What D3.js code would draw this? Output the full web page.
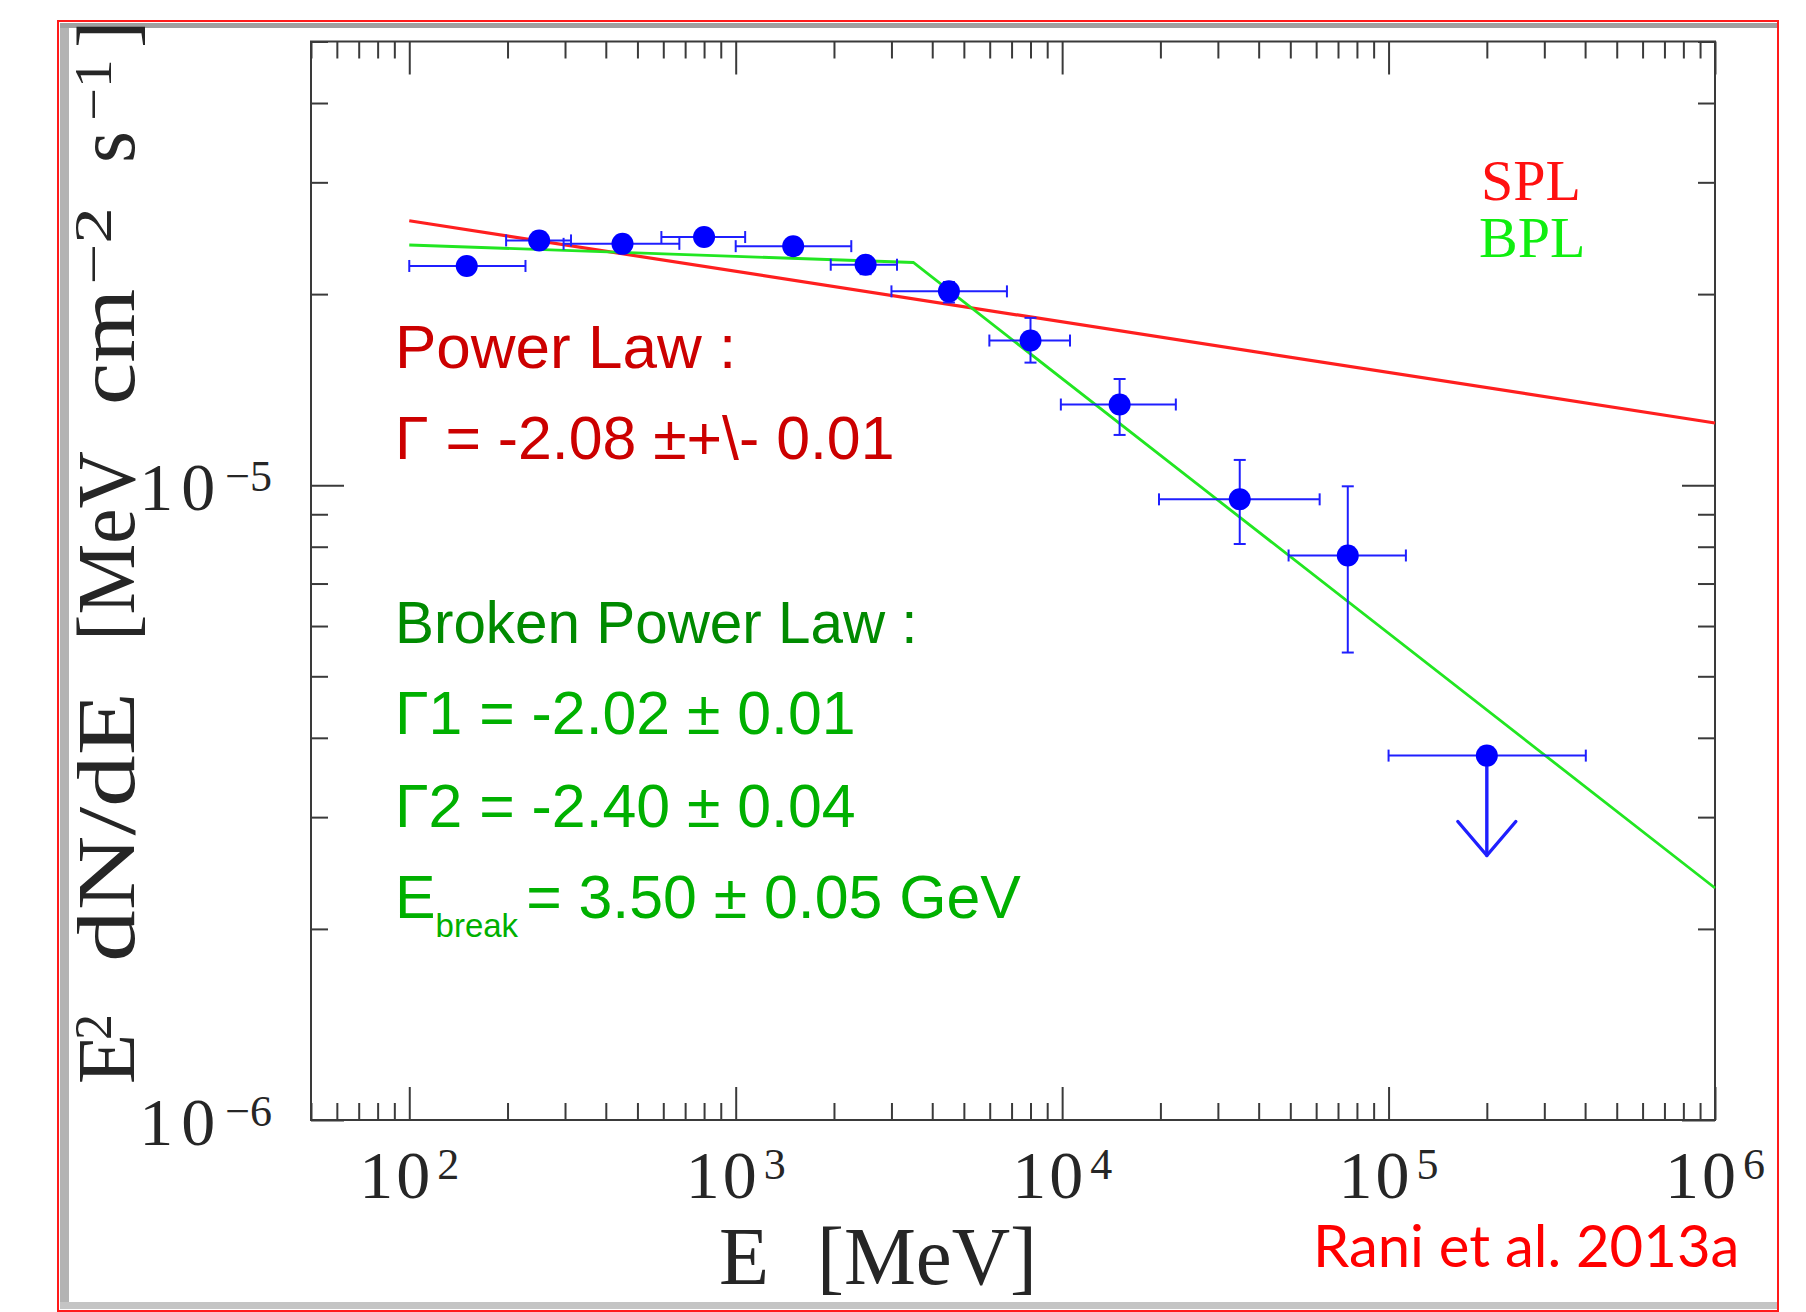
<!DOCTYPE html>
<html>
<head>
<meta charset="utf-8">
<script src="https://cdn.jsdelivr.net/npm/d3@7"></script>
<style>
  html, body { margin: 0; padding: 0; background: #ffffff; }
  svg { display: block; }
</style>
</head>
<body>
<svg id="chart" width="1806" height="1312"></svg>
<script>
// ---------------- data ----------------
const energy = [150, 250, 450, 800, 1500, 2500, 4500, 8000, 15000, 35000, 75000, 200000];
const flux   = [2.215e-5, 2.43e-5, 2.40e-5, 2.46e-5, 2.38e-5, 2.225e-5, 2.02e-5, 1.69e-5, 1.34e-5, 9.5e-6, 7.75e-6, 3.75e-6];
const eLow   = [100, 198, 297, 592, 1000, 1955, 3000, 5985, 9910, 19800, 49400, 100000];
const eHigh  = [227, 313, 672, 1069, 2260, 3120, 6775, 10570, 22300, 61500, 113000, 402000];
const fLow   = [2.15e-5, 2.36e-5, 2.33e-5, 2.39e-5, 2.31e-5, 2.15e-5, 1.94e-5, 1.56e-5, 1.20e-5, 8.08e-6, 5.45e-6, null];
const fHigh  = [2.28e-5, 2.50e-5, 2.47e-5, 2.53e-5, 2.45e-5, 2.29e-5, 2.09e-5, 1.835e-5, 1.47e-5, 1.096e-5, 9.96e-6, null];
const upperLimit = [false, false, false, false, false, false, false, false, false, false, false, true];
const ulArrowTo = [null, null, null, null, null, null, null, null, null, null, null, 2.61e-6];

const splE = [100, 1e6];
const splF = [2.61e-5, 1.253e-5];
const bplE = [100, 3500, 1e6];
const bplF = [2.39e-5, 2.243e-5, 2.32e-6];

const xDomain = [50, 1e6];
const yDomain = [1e-6, 5e-5];
const xMajorTicks = [1e2, 1e3, 1e4, 1e5, 1e6];
const xMajorExp = ["2", "3", "4", "5", "6"];
const yMajorTicks = [1e-6, 1e-5];
const yMajorExp = ["\u22126", "\u22125"];

const legendLabels = ["SPL", "BPL"];
const plLines = ["Power Law :", "\u0393 = -2.08 \u00b1+\\- 0.01"];
const bplTitle = "Broken Power Law :";
const bplLines = ["\u03931 = -2.02 \u00b1 0.01", "\u03932 = -2.40 \u00b1 0.04"];
const ebreak = ["E", "break", "= 3.50 \u00b1 0.05 GeV"];
const credit = "Rani et al. 2013a";

// ---------------- layout ----------------
const svg = d3.select("#chart");
const L = 311, R = 1715, T = 41.5, B = 1120;
const x = d3.scaleLog().domain(xDomain).range([L, R]);
const y = d3.scaleLog().domain(yDomain).range([B, T]);

// page frame (screenshot border)
svg.append("rect").attr("x", 0).attr("y", 0).attr("width", 1806).attr("height", 1312).attr("fill", "#fff");
svg.append("rect").attr("x", 60).attr("y", 23).attr("width", 9).attr("height", 1286).attr("fill", "#b3b3b3");
svg.append("rect").attr("x", 60).attr("y", 23).attr("width", 1717).attr("height", 5).attr("fill", "#a0a0a0");
svg.append("rect").attr("x", 60).attr("y", 1302).attr("width", 1717).attr("height", 7).attr("fill", "#c4c4c4");
svg.append("rect").attr("x", 58).attr("y", 21).attr("width", 1720).attr("height", 1290)
  .attr("fill", "none").attr("stroke", "#ff1a1a").attr("stroke-width", 2);

// ---------------- axes ----------------
const axisColor = "#3a3a3a";
const xAll = x.ticks().filter(v => v >= xDomain[0] && v <= xDomain[1]);
const xMinor = xAll.filter(v => !xMajorTicks.some(m => Math.abs(m - v) / m < 1e-9));
const yAll = y.ticks().filter(v => v >= yDomain[0] && v <= yDomain[1]);
const yMinor = yAll.filter(v => !yMajorTicks.some(m => Math.abs(m - v) / m < 1e-9));

function styleAxis(g) {
  g.select(".domain").remove();
  g.selectAll(".tick line").attr("stroke", axisColor).attr("stroke-width", 2);
  g.selectAll(".tick text").remove();
}
const axes = [
  [d3.axisBottom(x), `translate(0,${B})`, xMinor, xMajorTicks],
  [d3.axisTop(x), `translate(0,${T})`, xMinor, xMajorTicks],
  [d3.axisLeft(y), `translate(${L},0)`, yMinor, yMajorTicks],
  [d3.axisRight(y), `translate(${R},0)`, yMinor, yMajorTicks]
];
axes.forEach(([ax, tr, minor, major]) => {
  svg.append("g").attr("transform", tr)
    .call(ax.tickValues(minor).tickSize(-17).tickFormat("")).call(styleAxis);
  svg.append("g").attr("transform", tr)
    .call(ax.tickValues(major).tickSize(-33).tickFormat("")).call(styleAxis);
});
svg.append("rect").attr("x", L).attr("y", T).attr("width", R - L).attr("height", B - T)
  .attr("fill", "none").attr("stroke", axisColor).attr("stroke-width", 2);

// tick labels
const serif = "'Liberation Serif', 'Times New Roman', serif";
const ink = "#262626";
xMajorTicks.forEach((v, i) => {
  const t = svg.append("text").attr("x", x(v)).attr("y", 1198)
    .attr("text-anchor", "middle").attr("font-family", serif).attr("fill", ink);
  t.append("tspan").attr("font-size", 68).attr("letter-spacing", 3).text("10");
  t.append("tspan").attr("font-size", 44).attr("dx", 4).attr("dy", -19).text(xMajorExp[i]);
});
yMajorTicks.forEach((v, i) => {
  const t = svg.append("text").attr("x", 272).attr("y", y(v) + 25)
    .attr("text-anchor", "end").attr("font-family", serif).attr("fill", ink);
  t.append("tspan").attr("font-size", 68).attr("letter-spacing", 8).text("10");
  t.append("tspan").attr("font-size", 44).attr("dx", 2).attr("dy", -19).text(yMajorExp[i]);
});

// axis titles
svg.append("text").attr("x", 719).attr("y", 1284).attr("font-family", serif)
  .attr("font-size", 82).attr("fill", ink).text("E");
svg.append("text").attr("x", 817).attr("y", 1284).attr("font-family", serif)
  .attr("font-size", 82).attr("fill", ink)
  .attr("textLength", 220).attr("lengthAdjust", "spacingAndGlyphs").text("[MeV]");

const yLab = svg.append("g").attr("transform", "translate(134,0) rotate(-90)");
// [text, startY (bottom), length or null, superscript?]
const ySegs = [
  ["E", 1084, null, false],
  ["2", 1040, null, true],
  ["dN/dE", 962, 270, false],
  ["[MeV", 641, 190, false],
  ["cm", 405, 116, false],
  ["\u22122", 285, 78, true],
  ["s", 163, null, false],
  ["\u22121", 121, 62, true],
  ["]", 48, null, false]
];
ySegs.forEach(([txt, startY, len, sup]) => {
  const t = yLab.append("text").attr("x", -startY).attr("y", sup ? -23 : 0)
    .attr("font-family", serif).attr("font-size", sup ? 52 : 82).attr("fill", ink).text(txt);
  if (len) t.attr("textLength", len).attr("lengthAdjust", "spacingAndGlyphs");
});

// ---------------- model lines ----------------
const line = d3.line().x(d => x(d[0])).y(d => y(d[1]));
svg.append("path").datum(splE.map((e, i) => [e, splF[i]])).attr("d", line)
  .attr("fill", "none").attr("stroke", "#ff1f1f").attr("stroke-width", 3.2);
svg.append("path").datum(bplE.map((e, i) => [e, bplF[i]])).attr("d", line)
  .attr("fill", "none").attr("stroke", "#22e622").attr("stroke-width", 2.8);

// ---------------- data points ----------------
const pts = energy.map((e, i) => ({ e, f: flux[i], el: eLow[i], eh: eHigh[i], fl: fLow[i], fh: fHigh[i], ul: upperLimit[i], to: ulArrowTo[i] }));
const blue = "#1f1fff";
const cap = 6;
const gErr = svg.append("g").attr("stroke", blue).attr("stroke-width", 2).attr("fill", "none");
pts.forEach(p => {
  const cx = x(p.e), cy = y(p.f);
  gErr.append("line").attr("x1", x(p.el)).attr("x2", x(p.eh)).attr("y1", cy).attr("y2", cy);
  gErr.append("line").attr("x1", x(p.el)).attr("x2", x(p.el)).attr("y1", cy - cap).attr("y2", cy + cap);
  gErr.append("line").attr("x1", x(p.eh)).attr("x2", x(p.eh)).attr("y1", cy - cap).attr("y2", cy + cap);
  if (p.fl !== null) {
    gErr.append("line").attr("x1", cx).attr("x2", cx).attr("y1", y(p.fl)).attr("y2", y(p.fh));
    gErr.append("line").attr("x1", cx - cap).attr("x2", cx + cap).attr("y1", y(p.fl)).attr("y2", y(p.fl));
    gErr.append("line").attr("x1", cx - cap).attr("x2", cx + cap).attr("y1", y(p.fh)).attr("y2", y(p.fh));
  }
  if (p.ul) {
    const ty = y(p.to);
    const a = svg.append("g").attr("stroke", blue).attr("stroke-width", 3.4).attr("fill", "none")
      .attr("stroke-linecap", "round").attr("stroke-linejoin", "round");
    a.append("line").attr("x1", cx).attr("x2", cx).attr("y1", cy).attr("y2", ty);
    a.append("path").attr("d", `M${cx - 29},${ty - 34} L${cx},${ty} L${cx + 29},${ty - 34}`);
  }
});
svg.append("g").selectAll("circle").data(pts).join("circle")
  .attr("cx", d => x(d.e)).attr("cy", d => y(d.f)).attr("r", 11).attr("fill", "#0000ff");

// ---------------- legend ----------------
svg.append("text").attr("x", 1481).attr("y", 200).attr("font-family", serif).attr("font-size", 58)
  .attr("fill", "#ff1010").text(legendLabels[0]);
svg.append("text").attr("x", 1479).attr("y", 257).attr("font-family", serif).attr("font-size", 58)
  .attr("fill", "#10ee10").text(legendLabels[1]);

// ---------------- annotations ----------------
const sans = "'Liberation Sans', Arial, sans-serif";
svg.append("text").attr("x", 395).attr("y", 368).attr("font-family", sans).attr("font-size", 62)
  .attr("fill", "#cc0000").text(plLines[0]);
svg.append("text").attr("x", 395).attr("y", 459).attr("font-family", sans).attr("font-size", 60.8)
  .attr("fill", "#cc0000").text(plLines[1]);
svg.append("text").attr("x", 395).attr("y", 643).attr("font-family", sans).attr("font-size", 58.4)
  .attr("fill", "#008a00").text(bplTitle);
svg.append("text").attr("x", 395).attr("y", 734).attr("font-family", sans).attr("font-size", 60.8)
  .attr("fill", "#00b000").text(bplLines[0]);
svg.append("text").attr("x", 395).attr("y", 827).attr("font-family", sans).attr("font-size", 60.8)
  .attr("fill", "#00b000").text(bplLines[1]);
const eb = svg.append("text").attr("x", 395).attr("y", 918).attr("font-family", sans).attr("font-size", 60.8)
  .attr("fill", "#00b000");
eb.append("tspan").text(ebreak[0]);
eb.append("tspan").attr("font-size", 33).attr("dy", 19).text(ebreak[1]);
eb.append("tspan").attr("dy", -19).attr("dx", 8).text(ebreak[2]);

// credit
svg.append("text").attr("x", 1313).attr("y", 1267).attr("font-family", "Lato, 'Liberation Sans', sans-serif")
  .attr("font-size", 58).attr("fill", "#ff0000").text(credit);
</script>
</body>
</html>
